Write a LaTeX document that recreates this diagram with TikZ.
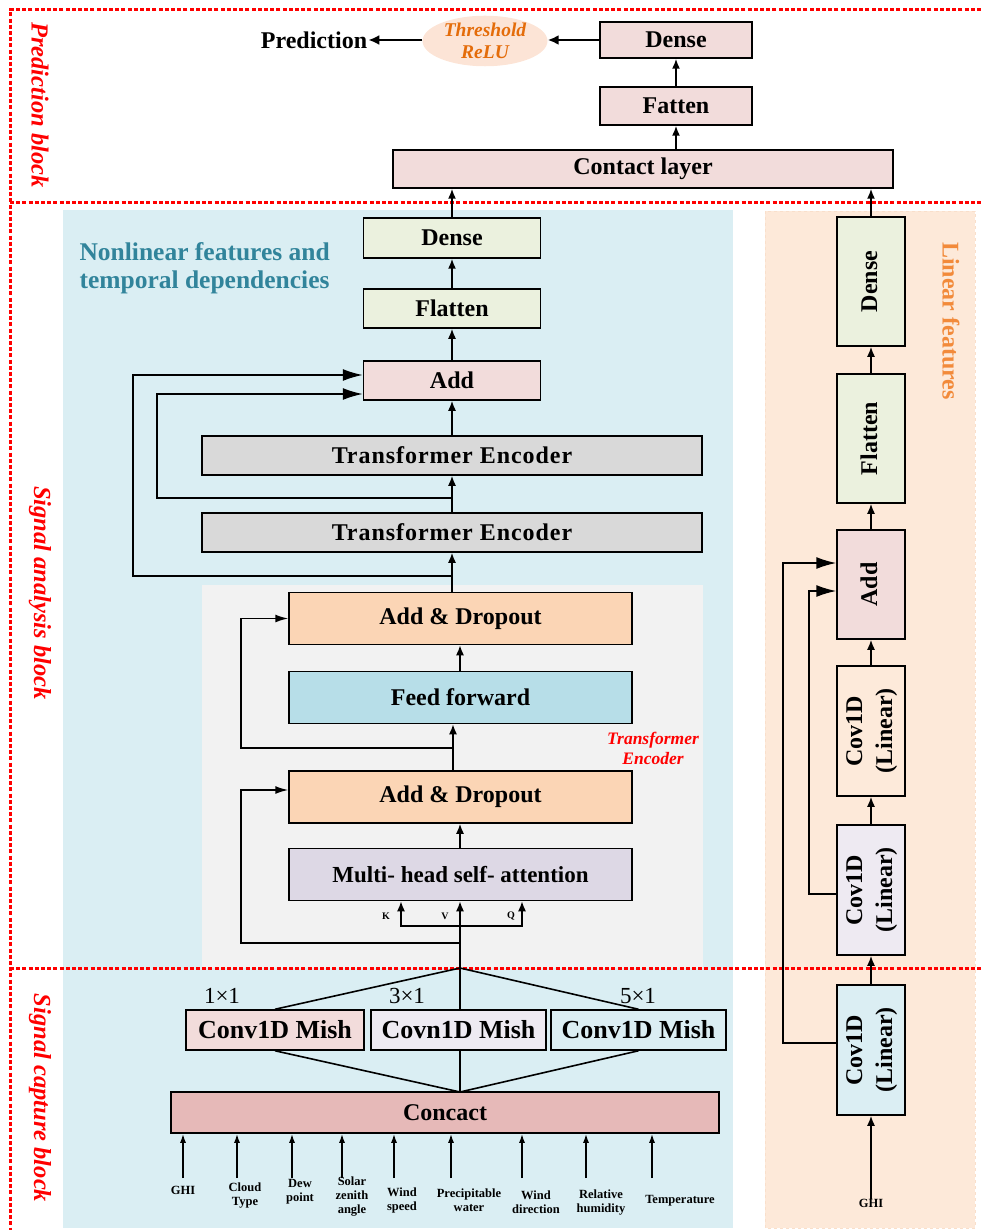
\documentclass[tikz,border=0pt]{standalone}
\usepackage{fontspec}
\usepackage{graphicx}
\setmainfont{Liberation Serif}
\usetikzlibrary{arrows.meta,shapes.geometric}

\definecolor{bluebg}{HTML}{DAEEF3}
\definecolor{graybg}{HTML}{F2F2F2}
\definecolor{peachbg}{HTML}{FDE9D9}
\definecolor{peachedge}{HTML}{F9DFCB}
\definecolor{pinkbox}{HTML}{F2DCDB}
\definecolor{greenbox}{HTML}{EBF1DE}
\definecolor{graybox}{HTML}{D9D9D9}
\definecolor{dropbox}{HTML}{FBD5B5}
\definecolor{ffbox}{HTML}{B7DEE8}
\definecolor{mhabox}{HTML}{DDD8E5}
\definecolor{lavbox}{HTML}{EEEAF2}
\definecolor{ltblue}{HTML}{DBEEF3}
\definecolor{linbox}{HTML}{FDEADA}
\definecolor{catbox}{HTML}{E6B9B8}
\definecolor{relubg}{HTML}{FCE4D6}
\definecolor{tealtxt}{HTML}{31849B}
\definecolor{relutxt}{HTML}{E46C0A}
\definecolor{lintxt}{HTML}{F28A3A}

\newcommand{\vlabel}[1]{\rotatebox{90}{\begin{tabular}{@{}c@{}}#1\end{tabular}}}

\tikzset{
  blk/.style={draw, line width=1.5pt, inner sep=0pt, font=\bfseries\fontsize{24}{28}\selectfont},
  vblk/.style={blk, minimum width=68, font=\bfseries\fontsize{24}{30}\selectfont},
  ln/.style={line width=1.6pt},
  arr/.style={ln, -{Latex[length=10pt,width=8pt]}},
  toparr/.style={line width=2.6pt, -{Latex[length=11pt,width=10pt]}},
  bigarr/.style={ln, -{Latex[length=20pt,width=12pt]}},
  redline/.style={red, line width=3pt, dash pattern=on 4pt off 2.2pt},
  sidelab/.style={red, rotate=-90, font=\bfseries\itshape\fontsize{24.5}{28}\selectfont},
  inlab/.style={align=center, inner sep=0pt, font=\bfseries\fontsize{12.5}{14}\selectfont},
  kqv/.style={inner sep=0pt, font=\bfseries\fontsize{10}{11}\selectfont},
  kern/.style={font=\fontsize{23}{26}\selectfont},
}

\begin{document}
\begin{tikzpicture}[x=1pt,y=-1pt]
  \useasboundingbox (0,0) rectangle (981,1230);

  \fill[bluebg] (63,210) rectangle (733,1228);
  \fill[graybg] (202,585) rectangle (703,968);
  \draw[peachedge, dashed, fill=peachbg] (765,211) rectangle (975,1228);

  \draw[redline] (981,10) -- (10,10) -- (10,1230);
  \draw[redline] (10,203) -- (981,203);
  \draw[redline] (10,968) -- (981,968);

  \node[sidelab] (lpred) at (40,105) {Prediction block};
  \node[sidelab] (lana) at (40,593) {Signal analysis block};
  \node[sidelab] (lcap) at (40,1098) {Signal capture block};

  % prediction block
  \node[blk, fill=pinkbox, minimum width=152, minimum height=36] (dTop) at (676,40) {Dense};
  \node[blk, fill=pinkbox, minimum width=152, minimum height=38] (fTop) at (676,106) {Fatten};
  \node[blk, fill=pinkbox, minimum width=500, minimum height=38] (contact) at (643,169) {Contact layer};
  \node[ellipse, fill=relubg, minimum width=125, minimum height=50, inner sep=0pt, align=center,
        text=relutxt, font=\bfseries\itshape\fontsize{19.5}{22}\selectfont] (relu) at (485,41) {Threshold\\ReLU};
  \node[font=\bfseries\fontsize{24}{28}\selectfont, inner sep=1pt] (pred) at (314,40) {Prediction};

  \draw[arr] (fTop.south |- contact.north) -- (fTop.south);
  \draw[arr] (fTop.north) -- (dTop.south);
  \draw[toparr] (dTop.west) -- (dTop.west -| relu.east);
  \draw[toparr] (relu.west |- pred.east) -- (pred.east);

  % signal analysis block
  \node[anchor=west, align=left, text=tealtxt, font=\bfseries\fontsize{25.5}{28}\selectfont] (nlab) at (76,268)
    {Nonlinear features and\\temporal dependencies};
  \node[blk, fill=greenbox, minimum width=177, minimum height=40] (dense1) at (452,238) {Dense};
  \node[blk, fill=greenbox, minimum width=177, minimum height=39] (flat1) at (452,308.5) {Flatten};
  \node[blk, fill=pinkbox, minimum width=177, minimum height=39] (add1) at (452,380.5) {Add};
  \node[blk, fill=graybox, minimum width=500, minimum height=39,
        font=\bfseries\fontsize{24}{28}\selectfont\addfontfeatures{LetterSpace=4}] (te1) at (452,455.5) {Transformer Encoder};
  \node[blk, fill=graybox, minimum width=500, minimum height=39,
        font=\bfseries\fontsize{24}{28}\selectfont\addfontfeatures{LetterSpace=4}] (te2) at (452,532.5) {Transformer Encoder};

  \node[blk, fill=dropbox, minimum width=343, minimum height=52] (ad1) at (460.5,618.5) {Add \& Dropout};
  \node[blk, fill=ffbox, minimum width=343, minimum height=52] (ff) at (460.5,697.5) {Feed forward};
  \node[blk, fill=dropbox, minimum width=343, minimum height=52] (ad2) at (460.5,797) {Add \& Dropout};
  \node[blk, fill=mhabox, minimum width=343, minimum height=52,
        font=\bfseries\fontsize{23}{27}\selectfont] (mha) at (460.5,874.5) {Multi- head self- attention};
  \node[align=center, text=red, font=\bfseries\itshape\fontsize{17.5}{20}\selectfont] (tlab) at (653,748) {Transformer\\Encoder};

  \coordinate (hub) at (460,968);
  \coordinate (kq) at (460,926);
  \coordinate (t1) at (460,943);
  \coordinate (t2) at (453,748);
  \coordinate (s1) at (452,576);
  \coordinate (s2) at (452,498);

  \draw[arr] (hub) -- (mha.south -| hub);
  \draw[arr] (kq) -| ([xshift=-59.5pt]mha.south);
  \draw[arr] (kq) -| ([xshift=61.5pt]mha.south);
  \node[kqv] (kk) at (386,916) {K};
  \node[kqv] (vv) at (445,916) {V};
  \node[kqv] (qq) at (511,916) {Q};
  \draw[arr, -{Latex[length=13pt,width=8pt]}] (t1) -- (241,943) |- ([yshift=7pt]ad2.west);
  \draw[arr] (mha.north -| hub) -- (ad2.south -| hub);
  \draw[arr] (ad2.north -| t2) -- (ff.south -| t2);
  \draw[arr, -{Latex[length=13pt,width=8pt]}] (t2) -- (241,748) |- (ad1.west);
  \draw[arr] (ff.north -| hub) -- (ad1.south -| hub);
  \draw[arr] (ad1.north -| te2.south) -- (te2.south);
  \draw[arr] (te2.north) -- (te1.south);
  \draw[arr] (te1.north) -- (add1.south);
  \draw[arr] (add1.north) -- (flat1.south);
  \draw[arr] (flat1.north) -- (dense1.south);
  \draw[arr] (dense1.north) -- (dense1.north |- contact.south);
  \draw[bigarr] (s1) -- (133,576) |- ([yshift=5.5pt]add1.west);
  \draw[bigarr] (s2) -- (157,498) |- ([yshift=-13.5pt]add1.west);

  % signal capture block
  \node[kern] (k1) at (222,996) {1×1};
  \node[kern] (k3) at (407,996) {3×1};
  \node[kern] (k5) at (638,996) {5×1};
  \node[blk, fill=pinkbox, minimum width=178, minimum height=40, font=\bfseries\fontsize{26}{30}\selectfont] (m1) at (275,1030) {Conv1D Mish};
  \node[blk, fill=lavbox, minimum width=175, minimum height=40, font=\bfseries\fontsize{26}{30}\selectfont] (m2) at (458.5,1030) {Covn1D Mish};
  \node[blk, fill=ltblue, minimum width=175, minimum height=40, font=\bfseries\fontsize{26}{30}\selectfont] (m3) at (638.5,1030) {Conv1D Mish};
  \node[blk, fill=catbox, minimum width=548, minimum height=41] (concact) at (445,1112.5) {Concact};
  \coordinate (cc) at (460,1092);

  \draw[ln] (hub) -- (m1.north);
  \draw[ln] (hub) -- (m2.north -| hub);
  \draw[ln] (hub) -- (m3.north);
  \draw[ln] (m1.south) -- (cc);
  \draw[ln] (m2.south -| cc) -- (cc);
  \draw[ln] (m3.south) -- (cc);

  \foreach \x/\n in {183/1,237/2,292/3,342/4,394/5,451/6,522/7,586/8,652/9}
    \coordinate (in\n) at (\x,1178);
  \foreach \n in {1,...,9}
    \draw[ln, -{Latex[length=9pt,width=6pt]}] (in\n) -- (in\n |- concact.south);
  \node[inlab] (g1) at (183,1190) {GHI};
  \node[inlab] (g2) at (245,1195) {Cloud\\Type};
  \node[inlab] (g3) at (300,1192) {Dew\\point};
  \node[inlab] (g4) at (352,1197) {Solar\\zenith\\angle};
  \node[inlab] (g5) at (402,1200) {Wind\\speed};
  \node[inlab] (g6) at (469,1200) {Precipitable\\water};
  \node[inlab] (g7) at (536,1202) {Wind\\direction};
  \node[inlab] (g8) at (601,1202) {Relative\\humidity};
  \node[inlab] (g9) at (680,1201) {Temperature};

  % linear features
  \node[rotate=-90, text=lintxt, font=\bfseries\fontsize{24}{28}\selectfont] (llin) at (951,321) {Linear features};
  \node[vblk, fill=greenbox, minimum height=129] (rDense) at (871,281.5) {\vlabel{Dense}};
  \node[vblk, fill=greenbox, minimum height=129] (rFlat) at (871,438.5) {\vlabel{Flatten}};
  \node[vblk, fill=pinkbox, minimum height=109] (rAdd) at (871,584.5) {\vlabel{Add}};
  \node[vblk, fill=linbox, minimum height=130] (rc3) at (871,731) {\vlabel{Cov1D\\(Linear)}};
  \node[vblk, fill=lavbox, minimum height=130] (rc2) at (871,890) {\vlabel{Cov1D\\(Linear)}};
  \node[vblk, fill=ltblue, minimum height=130] (rc1) at (871,1050) {\vlabel{Cov1D\\(Linear)}};
  \node[inlab] (ghi) at (871,1203) {GHI};

  \draw[arr] (ghi.north) -- (rc1.south);
  \draw[arr] (rc1.north) -- (rc2.south);
  \draw[arr] (rc2.north) -- (rc3.south);
  \draw[arr] (rc3.north) -- (rAdd.south);
  \draw[arr] (rAdd.north) -- (rFlat.south);
  \draw[arr] (rFlat.north) -- (rDense.south);
  \draw[arr] (rDense.north) -- (rDense.north |- contact.south);
  \draw[bigarr] ([yshift=7pt]rc1.west) -- (783,1043) |- ([yshift=21.5pt]rAdd.west);
  \draw[bigarr] ([yshift=-4pt]rc2.west) -- (809,894) |- ([yshift=-6.5pt]rAdd.west);
\end{tikzpicture}
\end{document}
